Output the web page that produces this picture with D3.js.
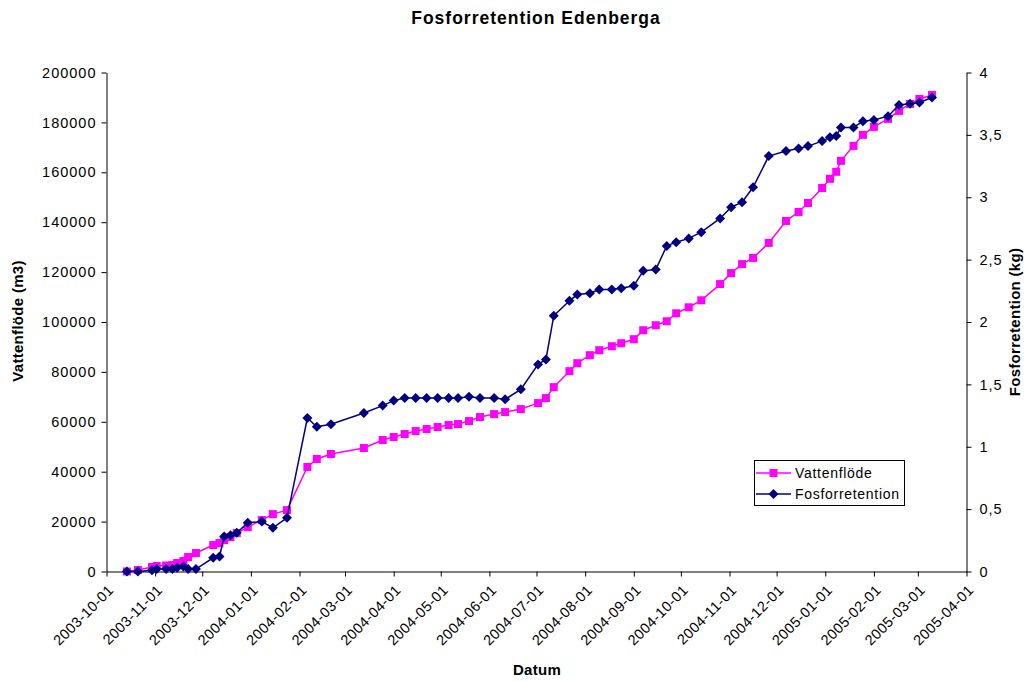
<!DOCTYPE html>
<html>
<head>
<meta charset="utf-8">
<script src="https://cdn.jsdelivr.net/npm/d3@7"></script>
<style>
  body { margin: 0; background: #fff; }
  svg text { font-family: "Liberation Sans", Arial, sans-serif; fill: #000; }
</style>
</head>
<body>
<svg id="chart" width="1026" height="681"></svg>
<script>
// Mätdatum
const dates = [
  "2003-10-14","2003-10-21","2003-10-30","2003-11-02","2003-11-08","2003-11-12","2003-11-15","2003-11-19",
  "2003-11-22","2003-11-27","2003-12-08","2003-12-12","2003-12-15","2003-12-19","2003-12-23","2003-12-30",
  "2004-01-08","2004-01-15","2004-01-24","2004-02-06","2004-02-12","2004-02-21","2004-03-13","2004-03-25",
  "2004-04-01","2004-04-08","2004-04-15","2004-04-22","2004-04-29","2004-05-06","2004-05-12","2004-05-19",
  "2004-05-26","2004-06-04","2004-06-11","2004-06-21","2004-07-02","2004-07-07","2004-07-12","2004-07-22",
  "2004-07-27","2004-08-04","2004-08-10","2004-08-18","2004-08-24","2004-09-01","2004-09-07","2004-09-15",
  "2004-09-22","2004-09-28","2004-10-06","2004-10-14","2004-10-26","2004-11-02","2004-11-09","2004-11-16",
  "2004-11-26","2004-12-07","2004-12-15","2004-12-21","2004-12-30","2005-01-04","2005-01-08","2005-01-11",
  "2005-01-19","2005-01-25","2005-02-01","2005-02-10","2005-02-17","2005-02-24","2005-03-02","2005-03-10"
];

// Ackumulerat vattenflöde (m3)
const vattenflode = [
  0, 600, 1800, 2200, 2400, 2600, 3400, 4200,
  5800, 7400, 10600, 11400, 12600, 13800, 15400, 17800,
  20600, 23000, 24600, 41900, 45100, 47100, 49500, 52700,
  53900, 55100, 56300, 57100, 57900, 58700, 59100, 60300,
  61900, 63100, 63900, 65100, 67500, 69500, 73900, 80300,
  83500, 86700, 88700, 90300, 91500, 93100, 96700, 98700,
  100300, 103500, 105900, 108700, 115200, 119600, 123200, 125700,
  131700, 140500, 144100, 147700, 153700, 157400, 160200, 164600,
  170600, 175000, 178200, 181400, 184600, 187400, 189400, 191000
];

// Ackumulerad fosforretention (kg)
const fosforretention = [
  0, 0, 0.01, 0.02, 0.02, 0.02, 0.03, 0.04,
  0.02, 0.02, 0.11, 0.12, 0.28, 0.29, 0.31, 0.39,
  0.40, 0.35, 0.43, 1.23, 1.16, 1.18, 1.27, 1.33,
  1.37, 1.39, 1.39, 1.39, 1.39, 1.39, 1.39, 1.40,
  1.39, 1.39, 1.38, 1.46, 1.66, 1.70, 2.05, 2.17,
  2.22, 2.23, 2.26, 2.26, 2.27, 2.29, 2.41, 2.42,
  2.61, 2.64, 2.67, 2.72, 2.83, 2.92, 2.96, 3.08,
  3.33, 3.37, 3.39, 3.41, 3.45, 3.48, 3.49, 3.56,
  3.56, 3.61, 3.62, 3.65, 3.74, 3.75, 3.76, 3.80
];

const leftTicks = [0, 20000, 40000, 60000, 80000, 100000, 120000, 140000, 160000, 180000, 200000];
const rightTicks = [0, 0.5, 1, 1.5, 2, 2.5, 3, 3.5, 4];
const dateTicks = [
  "2003-10-01","2003-11-01","2003-12-01","2004-01-01","2004-02-01","2004-03-01","2004-04-01",
  "2004-05-01","2004-06-01","2004-07-01","2004-08-01","2004-09-01","2004-10-01","2004-11-01",
  "2004-12-01","2005-01-01","2005-02-01","2005-03-01","2005-04-01"
];

const parse = d3.utcParse("%Y-%m-%d");
const fmtDate = d3.utcFormat("%Y-%m-%d");
const svg = d3.select("#chart");

const plotLeft = 106.5, plotRight = 966.5, plotTop = 72.5, plotBottom = 571.5;

const x = d3.scaleUtc()
  .domain([parse("2003-10-01"), parse("2005-04-01")])
  .range([plotLeft, plotRight]);
const yL = d3.scaleLinear().domain([0, 200000]).range([plotBottom, plotTop]);
const yR = d3.scaleLinear().domain([0, 4]).range([plotBottom, plotTop]);

const rows = dates.map((d, i) => ({ date: parse(d), v: vattenflode[i], p: fosforretention[i] }));

// Axlar
const axisStyle = (size, spacing) => g => {
  g.selectAll("path.domain").attr("stroke", "#000").attr("stroke-width", 1);
  g.selectAll(".tick line").attr("stroke", "#000");
  g.selectAll("text").attr("font-size", size).attr("letter-spacing", spacing)
    .attr("font-family", '"Liberation Sans", Arial, sans-serif');
};

svg.append("g")
  .attr("transform", `translate(${plotLeft},0)`)
  .call(d3.axisLeft(yL).tickValues(leftTicks).tickSize(5).tickSizeOuter(0).tickPadding(5).tickFormat(d3.format("d")))
  .call(axisStyle(14.5, 1));

svg.append("g")
  .attr("transform", `translate(${plotRight},0)`)
  .call(d3.axisRight(yR).tickValues(rightTicks).tickSize(5).tickSizeOuter(0).tickPadding(8)
    .tickFormat(d => String(d).replace(".", ",")))
  .call(axisStyle(14.5, 1));

const xAxis = svg.append("g")
  .attr("transform", `translate(0,${plotBottom})`)
  .call(d3.axisBottom(x).tickValues(dateTicks.map(parse)).tickSize(5).tickSizeOuter(0).tickFormat(fmtDate))
  .call(axisStyle(14.5, 0.4));

xAxis.selectAll(".tick text")
  .attr("text-anchor", "end")
  .attr("x", 0).attr("y", 0).attr("dy", "0.35em")
  .attr("transform", "translate(4,16) rotate(-45)");

// Serier
const lineV = d3.line().x(d => x(d.date)).y(d => yL(d.v));
const lineP = d3.line().x(d => x(d.date)).y(d => yR(d.p));

const magenta = "#ff00ff", navy = "#000080";
const diamond = "M0,-5L5,0L0,5L-5,0Z";

svg.append("path").datum(rows)
  .attr("fill", "none").attr("stroke", magenta).attr("stroke-width", 1.5).attr("d", lineV);
svg.append("g").selectAll("rect").data(rows).join("rect")
  .attr("x", d => x(d.date) - 4).attr("y", d => yL(d.v) - 4)
  .attr("width", 8).attr("height", 8).attr("fill", magenta);

svg.append("path").datum(rows)
  .attr("fill", "none").attr("stroke", navy).attr("stroke-width", 1.5).attr("d", lineP);
svg.append("g").selectAll("path").data(rows).join("path")
  .attr("transform", d => `translate(${x(d.date)},${yR(d.p)})`)
  .attr("d", diamond).attr("fill", navy);

// Titlar
svg.append("text").attr("x", 536).attr("y", 24).attr("text-anchor", "middle")
  .attr("font-size", 17.5).attr("letter-spacing", 1).attr("font-weight", "bold").text("Fosforretention Edenberga");
svg.append("text").attr("x", 537).attr("y", 675).attr("text-anchor", "middle")
  .attr("font-size", 15).attr("letter-spacing", 0.3).attr("font-weight", "bold").text("Datum");
svg.append("text").attr("transform", "translate(23,321) rotate(-90)").attr("text-anchor", "middle")
  .attr("font-size", 15).attr("letter-spacing", 0.3).attr("font-weight", "bold").text("Vattenflöde (m3)");
svg.append("text").attr("transform", "translate(1020,322) rotate(-90)").attr("text-anchor", "middle")
  .attr("font-size", 15).attr("letter-spacing", 0.3).attr("font-weight", "bold").text("Fosforretention (kg)");

// Teckenförklaring
const legend = svg.append("g");
legend.append("rect").attr("x", 754.5).attr("y", 460.5).attr("width", 150).attr("height", 45)
  .attr("fill", "#fff").attr("stroke", "#000").attr("stroke-width", 1);
const items = [
  { label: "Vattenflöde", color: magenta, kind: "square", y: 473 },
  { label: "Fosforretention", color: navy, kind: "diamond", y: 494 }
];
items.forEach(it => {
  legend.append("line").attr("x1", 756).attr("x2", 791).attr("y1", it.y).attr("y2", it.y)
    .attr("stroke", it.color).attr("stroke-width", 1.5);
  if (it.kind === "square") {
    legend.append("rect").attr("x", 769.5).attr("y", it.y - 4).attr("width", 8).attr("height", 8).attr("fill", it.color);
  } else {
    legend.append("path").attr("transform", `translate(773.5,${it.y})`).attr("d", diamond).attr("fill", it.color);
  }
  legend.append("text").attr("x", 795).attr("y", it.y).attr("dy", "0.35em")
    .attr("font-size", 14).attr("letter-spacing", 0.7).text(it.label);
});
</script>
</body>
</html>
